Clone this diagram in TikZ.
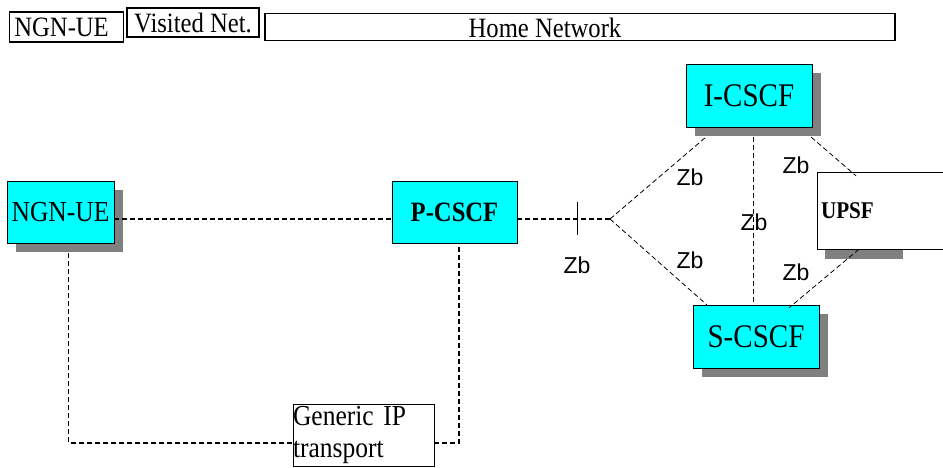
\documentclass[tikz,border=0pt]{standalone}
\usepackage{fontspec}
\setmainfont[FakeStretch=0.88]{Liberation Serif}
\newfontfamily\zbfont{Liberation Sans}
\usepackage{tikz}
\usetikzlibrary{shadows,calc}
\definecolor{boxcyan}{HTML}{00FFFF}
\definecolor{shadowgray}{HTML}{808080}

\begin{document}
\begin{tikzpicture}[x=1pt,y=-1pt,
	hdr/.style={draw,line width=1.2pt,inner sep=1pt,font=\fontsize{28}{30}\selectfont},
	fn/.style={draw,fill=boxcyan,minimum width=126pt,minimum height=63pt,inner sep=0pt,
		drop shadow={shadow xshift=9pt,shadow yshift=-9pt,fill=shadowgray,opacity=1}},
	sig/.style={line width=1.8pt,dash pattern=on 5pt off 3pt},
	zbline/.style={line width=0.8pt,dash pattern=on 5pt off 3pt},
	zb/.style={font=\zbfont\fontsize{23}{25}\selectfont,inner sep=0pt}]
	\useasboundingbox (0,0) rectangle (943,468);
	% header
	\node[hdr,minimum width=114pt,minimum height=30pt,anchor=west,align=left] (hue) at (9,27) {NGN-UE\hspace{10pt}};
	\node[hdr,minimum width=132pt,minimum height=29pt] (hvis) at (193,22.5) {Visited Net.};
	\node[hdr,minimum width=630pt,minimum height=27pt,
		label={[xshift=-35pt,yshift=-1pt,font=\fontsize{28}{30}\selectfont]center:Home Network}] (hhome) at (580,27) {};
	% functions
	\node[fn,minimum width=107pt,minimum height=62pt,font=\fontsize{29}{31}\selectfont] (ue) at (60.5,212) {NGN-UE};
	\node[draw,fill=boxcyan,minimum width=125pt,minimum height=62pt,font=\bfseries\fontsize{28}{30}\selectfont] (pcscf) at (454.5,212) {P-CSCF};
	\node[fn,font=\fontsize{33}{35}\selectfont] (icscf) at (749,95.5) {I-CSCF};
	\node[fn,font=\fontsize{33}{35}\selectfont] (scscf) at (756,336.5) {S-CSCF};
	\fill[shadowgray] (825,182) rectangle (903,259);
	\node[draw,fill=white,minimum width=126pt,minimum height=77pt,text width=118pt,align=left,
		font=\bfseries\fontsize{24}{26}\selectfont] (upsf) at (880,210.5) {UPSF};
	\node[draw,fill=white,minimum width=141pt,minimum height=62pt,text width=141pt,inner sep=0pt,
		align=left,font=\fontsize{29}{32}\selectfont] (gip) at (363.5,435) {Generic IP\\transport};
	\coordinate (tick) at (577,219);
	\coordinate (br) at (610,219);
	% Gm / transport
	\draw[sig] (ue.east |- br) -- (pcscf.west |- br);
	\draw[sig] (pcscf.east |- br) -- (br);
	\draw[line width=1pt] (tick) ++(0,-17) -- ++(0,33);
	\draw[sig] ([xshift=8pt,yshift=-10pt]ue.south) |- ([yshift=-8pt]gip.west);
	\draw[sig] ([yshift=-8pt]gip.east) -| ([xshift=4.5pt]pcscf.south);
	% Zb
	\draw[zbline] (br) -- ([xshift=20pt,yshift=-10pt]icscf.south west);
	\draw[zbline] (br) -- ([xshift=14pt]scscf.north west);
	\draw[zbline] ([xshift=4pt,yshift=-10pt]icscf.south) -- ([xshift=-3pt]scscf.north);
	\draw[zbline] ([xshift=-1pt,yshift=-10pt]icscf.south east) -- ([xshift=-24pt,yshift=-4pt]upsf.north);
	\draw[zbline] ([xshift=-21pt]upsf.south) -- ([xshift=33pt,yshift=-3pt]scscf.north);
	\node[zb] (zb1) at (577,265) {Zb};
	\node[zb] (zb2) at (690,177) {Zb};
	\node[zb] (zb3) at (796,165) {Zb};
	\node[zb] (zb4) at (754,222) {Zb};
	\node[zb] (zb5) at (690,260) {Zb};
	\node[zb] (zb6) at (796,272) {Zb};
\end{tikzpicture}
\end{document}
